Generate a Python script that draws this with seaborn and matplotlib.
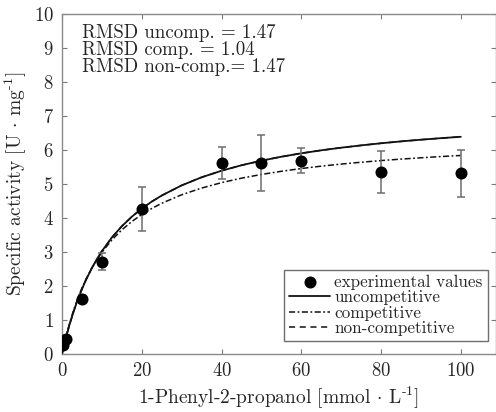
import numpy as np
import pandas as pd
import matplotlib
matplotlib.use("Agg")
import matplotlib.pyplot as plt
import seaborn as sns

# Measured specific activities
substrate = [0.25, 1, 5, 10, 20, 40, 50, 60, 80, 100]
activity = [0.27, 0.45, 1.62, 2.72, 4.27, 5.62, 5.62, 5.69, 5.36, 5.31]
activity_err = [0.10, 0.10, 0.12, 0.26, 0.64, 0.47, 0.83, 0.37, 0.61, 0.68]

# Fitted model curves
curve_x = [0, 0.5, 1, 1.5, 2, 3, 4, 5, 6, 7.5, 9, 10, 12.5, 15, 17.5, 20, 22.5,
           25, 30, 35, 40, 45, 50, 55, 60, 65, 70, 75, 80, 85, 90, 95, 100]
uncompetitive = [0, 0.250, 0.483, 0.701, 0.906, 1.279, 1.611, 1.908, 2.176,
                 2.531, 2.840, 3.025, 3.426, 3.758, 4.037, 4.276, 4.482, 4.661,
                 4.959, 5.197, 5.390, 5.551, 5.686, 5.802, 5.903, 5.991, 6.068,
                 6.136, 6.198, 6.253, 6.303, 6.348, 6.389]
competitive = [0, 0.265, 0.509, 0.735, 0.944, 1.321, 1.650, 1.940, 2.197,
               2.534, 2.821, 2.991, 3.355, 3.651, 3.896, 4.103, 4.280, 4.433,
               4.683, 4.880, 5.040, 5.171, 5.281, 5.374, 5.455, 5.525, 5.586,
               5.640, 5.689, 5.732, 5.771, 5.807, 5.839]
non_competitive = [0, 0.250, 0.483, 0.701, 0.906, 1.279, 1.611, 1.908, 2.176,
                   2.531, 2.840, 3.025, 3.426, 3.758, 4.037, 4.276, 4.482, 4.661,
                   4.959, 5.197, 5.390, 5.551, 5.686, 5.802, 5.903, 5.991, 6.068,
                   6.136, 6.198, 6.253, 6.303, 6.348, 6.389]

rmsd_lines = ["RMSD uncomp. = 1.47", "RMSD comp. = 1.04", "RMSD non-comp.= 1.47"]
x_ticks = [0, 20, 40, 60, 80, 100]
y_ticks = list(range(0, 11))

sns.set_theme(style="ticks")
plt.rcParams.update({
    "font.family": "serif",
    "font.serif": ["cmr10"],
    "mathtext.fontset": "cm",
    "axes.formatter.use_mathtext": True,
    "axes.unicode_minus": False,
})

W, H = 496, 412
fig = plt.figure(figsize=(W / 100, H / 100), dpi=100)
left, right, top, bottom = 62, 495.5, 14, 354
ax = fig.add_axes([left / W, 1 - bottom / H, (right - left) / W, (bottom - top) / H])

curves = pd.DataFrame({"x": curve_x, "unc": uncompetitive,
                       "comp": competitive, "nonc": non_competitive})
line_col = "#111111"
sns.lineplot(data=curves, x="x", y="nonc", ax=ax, color=line_col, lw=1.1,
             label="non-competitive", zorder=2).lines[-1].set_dashes((4, 3))
sns.lineplot(data=curves, x="x", y="comp", ax=ax, color=line_col, lw=1.1,
             label="competitive", zorder=2).lines[-1].set_dashes((4, 1.6, 1.2, 1.6))
sns.lineplot(data=curves, x="x", y="unc", ax=ax, color=line_col, lw=1.3,
             label="uncompetitive", zorder=3)

ax.errorbar(substrate, activity, yerr=activity_err, fmt="none",
            ecolor="#6e6e6e", elinewidth=1.1, capsize=3, capthick=1.1, zorder=4)
sns.scatterplot(x=substrate, y=activity, ax=ax, color="black", s=75,
                edgecolor="black", linewidth=0, label="experimental values", zorder=5)

ax.set_xlim(0, 108.7)
ax.set_ylim(0, 10)
ax.set_xticks(x_ticks)
ax.set_yticks(y_ticks)
ax.tick_params(direction="in", length=3.5, width=0.8, color="#7a7a7a",
               labelcolor="#262626", labelsize=13.5, top=True, right=True, pad=6)
for s in ax.spines.values():
    s.set_color("#8a8a8a")
    s.set_linewidth(1.0)

ax.set_xlabel(r"1-Phenyl-2-propanol [mmol $\cdot$ L$^{\text{-1}}$]",
              fontsize=14, color="#262626", labelpad=3)
ax.set_ylabel(r"Specific activity [U $\cdot$ mg$^{\text{-1}}$]",
              fontsize=14, color="#262626", labelpad=3)

for i, txt in enumerate(rmsd_lines):
    ax.text(0.046, 0.945 - i * 0.05, txt, transform=ax.transAxes,
            fontsize=13.6, color="#262626", va="center", ha="left")

handles, labels = ax.get_legend_handles_labels()
order = ["experimental values", "uncompetitive", "competitive", "non-competitive"]
hmap = dict(zip(labels, handles))
leg = ax.legend([hmap[k] for k in order], order, loc="lower right",
                bbox_to_anchor=((488 - left) / (right - left), (bottom - 341) / (bottom - top)),
                fontsize=12.3, frameon=True, fancybox=False, framealpha=1,
                edgecolor="#6e6e6e", handlelength=2.4, handletextpad=0.25,
                labelspacing=0.0, borderpad=0.3, borderaxespad=0)
leg.get_frame().set_linewidth(1.0)
for t in leg.get_texts():
    t.set_color("#262626")

fig.savefig("out.png", dpi=100)
